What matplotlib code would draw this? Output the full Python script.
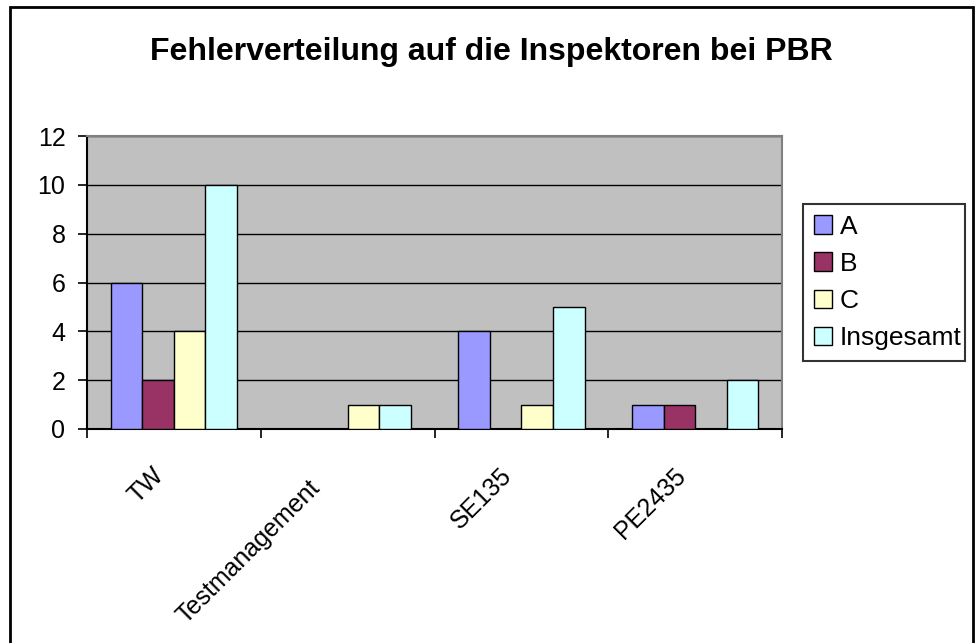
import matplotlib
matplotlib.use("Agg")
import matplotlib.pyplot as plt
import matplotlib.transforms as mtrans
import numpy as np
from matplotlib.patches import Rectangle

categories = ["TW", "Testmanagement", "SE135", "PE2435"]
series_names = ["A", "B", "C", "Insgesamt"]
vals_A = [6, 0, 4, 1]
vals_B = [2, 0, 0, 1]
vals_C = [4, 1, 1, 0]
vals_I = [10, 1, 5, 2]
series_vals = [vals_A, vals_B, vals_C, vals_I]
colors = ["#9999FF", "#993366", "#FFFFCC", "#CCFFFF"]
title = "Fehlerverteilung auf die Inspektoren bei PBR"
yticks = [0, 2, 4, 6, 8, 10, 12]

plt.rcParams['font.family'] = ['Liberation Sans', 'DejaVu Sans']

fig = plt.figure(figsize=(9.75, 6.43), dpi=100)
# outer chart frame
fig.patches.append(Rectangle((10/975, -0.05), 963/975, 1 - 7/643 + 0.05,
                             transform=fig.transFigure, fill=False,
                             edgecolor='black', linewidth=2))

ax = fig.add_axes([87/975, 1 - 429/643, (782 - 87)/975, (429 - 136)/643])
ax.set_facecolor('#C0C0C0')

n = len(series_names)
gap = 1.5
bw = 1.0 / (n + gap)
x = np.arange(len(categories))
for i, (name, vals, c) in enumerate(zip(series_names, series_vals, colors)):
    offs = (i - (n - 1) / 2) * bw
    ax.bar(x + offs, vals, width=bw, color=c, edgecolor='black',
           linewidth=1.0, label=name, zorder=3)

ax.set_xlim(-0.5, len(categories) - 0.5)
ax.set_ylim(0, 12)
ax.set_yticks(yticks)
ax.yaxis.grid(True, color='black', linewidth=1.0, zorder=1)
ax.set_axisbelow(True)

ax.set_xticks(np.arange(len(categories) + 1) - 0.5, minor=False)
ax.set_xticklabels([])
ax.set_xticks(x, minor=True)
labels = ax.set_xticklabels(categories, minor=True, rotation=45, ha='right',
                            va='top', rotation_mode='anchor', fontsize=18)
ax.tick_params(axis='x', which='minor', length=0, pad=14)
ax.tick_params(axis='x', which='major', length=6.5, width=1.2, direction='out', color='black')
ax.tick_params(axis='y', length=6.5, width=1.2, direction='out', labelsize=18, pad=9)

extra = {"Testmanagement": (-18, -12)}
for lab in labels:
    dx, dy = -22, -15
    ex = extra.get(lab.get_text(), (0, 0))
    dx += ex[0]
    dy += ex[1]
    lab.set_transform(lab.get_transform() + mtrans.ScaledTranslation(dx / 100, dy / 100, fig.dpi_scale_trans))

for s in ['top', 'right']:
    ax.spines[s].set_color('#808080')
    ax.spines[s].set_linewidth(1.5)
for s in ['left', 'bottom']:
    ax.spines[s].set_color('black')
    ax.spines[s].set_linewidth(1.5)

fig.text(491 / 975, 1 - 52 / 643, title, ha='center', va='center',
         fontsize=23, fontweight='bold')

leg = ax.legend(loc='center', bbox_to_anchor=(803/975, 1 - 362/643, (965-803)/975, (362-203)/643),
                bbox_transform=fig.transFigure, mode='expand', fontsize=19, frameon=True, fancybox=False,
                handlelength=0.7, handleheight=0.7, handletextpad=0.3, borderaxespad=0,
                labelspacing=0.5, borderpad=0.4)
leg.get_frame().set_edgecolor('black')
leg.get_frame().set_linewidth(1.5)

fig.savefig('out.png', dpi=100)
